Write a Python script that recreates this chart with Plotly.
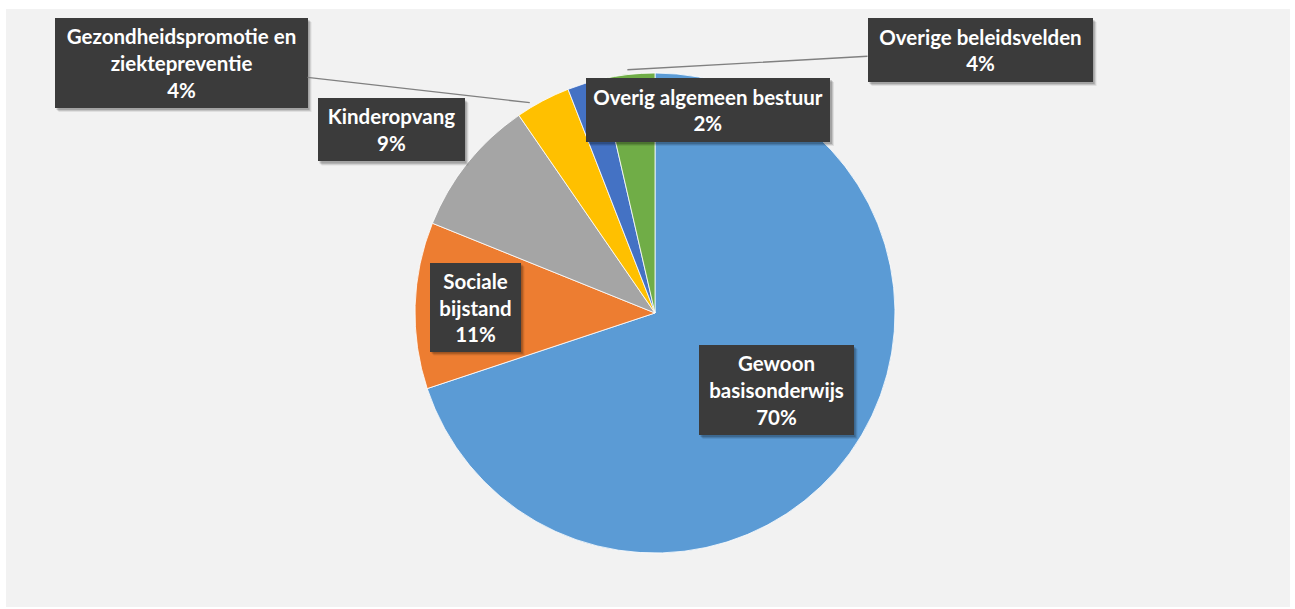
import math
import plotly.graph_objects as go

# Slice data (share of the budget, %), clockwise from 12 o'clock
labels = [
    "Gewoon basisonderwijs",
    "Sociale bijstand",
    "Kinderopvang",
    "Gezondheidspromotie en ziektepreventie",
    "Overig algemeen bestuur",
    "Overige beleidsvelden",
]
values = [69.9, 11.2, 9.3, 3.7, 2.3, 3.6]
colors = ["#5b9bd5", "#ed7d31", "#a5a5a5", "#ffc000", "#4472c4", "#70ad47"]

# Label text lines (the percentage is appended from the values)
label_lines = [
    ["Gewoon", "basisonderwijs"],
    ["Sociale", "bijstand"],
    ["Kinderopvang"],
    ["Gezondheidspromotie en", "ziektepreventie"],
    ["Overig algemeen bestuur"],
    ["Overige beleidsvelden"],
]

W, H = 1295, 609
CX, CY, R = 655, 313, 240  # pie centre and radius in pixels

# Label box geometry: centre x, centre y, width, height (pixels),
# leader line angular nudge in radians (None = no leader line)
boxes = [
    (776, 390, 155, 90, None),
    (475, 307, 91, 89, None),
    (391, 130, 147, 63, None),
    (181, 63, 253, 90, -0.05),
    (708, 110, 244, 64, None),
    (980, 50, 225, 64, 0.0),
]


def px(x):
    return x / W


def py(y):
    return 1 - y / H


total = sum(values)
fig = go.Figure(
    go.Pie(
        labels=labels,
        values=values,
        sort=False,
        direction="clockwise",
        rotation=0,
        marker=dict(colors=colors, line=dict(color="#ffffff", width=0.8)),
        textinfo="none",
        hoverinfo="label+percent",
        showlegend=False,
        domain=dict(x=[px(CX - R), px(CX + R)], y=[py(CY + R), py(CY - R)]),
    )
)

shapes = [
    # chart area background
    dict(type="rect", xref="paper", yref="paper", layer="below",
         x0=px(6), x1=px(1290), y0=py(607), y1=py(9),
         fillcolor="#f2f2f2", line=dict(width=0)),
]
annotations = []

cum = 0.0
for name, val, lines, (bx, by, bw, bh, nudge) in zip(labels, values, label_lines, boxes):
    pct = round(val / total * 100)
    mid = (cum + val / 2) / total * 2 * math.pi
    cum += val
    text = "<br>".join(lines + [f"{pct}%"])

    # soft drop shadow behind each label box
    for off, alpha in ((4, 0.08), (3, 0.12), (2, 0.16)):
        shapes.append(dict(
            type="rect", xref="paper", yref="paper", layer="above",
            x0=px(bx - bw / 2 + off), x1=px(bx + bw / 2 + off),
            y0=py(by + bh / 2 + off), y1=py(by - bh / 2 + off),
            fillcolor=f"rgba(0,0,0,{alpha})", line=dict(width=0),
        ))

    ann = dict(
        text=text, xref="paper", yref="paper",
        font=dict(family="Lato", size=20.5, color="#ffffff", weight="bold"),
        bgcolor="#3b3b3b", borderpad=0, borderwidth=0,
        width=bw, height=bh, align="center", valign="middle",
    )
    if nudge is not None:
        # leader line from the box to the edge of its slice
        tx = CX + R * 1.02 * math.sin(mid + nudge)
        ty = CY - R * 1.02 * math.cos(mid + nudge)
        ann.update(x=px(tx), y=py(ty), ax=bx - tx, ay=by - ty,
                   showarrow=True, arrowhead=0, arrowwidth=1.4,
                   arrowcolor="#808080", standoff=0, startstandoff=0)
    else:
        ann.update(x=px(bx), y=py(by), showarrow=False,
                   xanchor="center", yanchor="middle")
    annotations.append(ann)

fig.update_layout(
    width=W, height=H,
    margin=dict(l=0, r=0, t=0, b=0),
    paper_bgcolor="#ffffff",
    plot_bgcolor="#ffffff",
    shapes=shapes,
    annotations=annotations,
)

fig.write_html("out.html")
